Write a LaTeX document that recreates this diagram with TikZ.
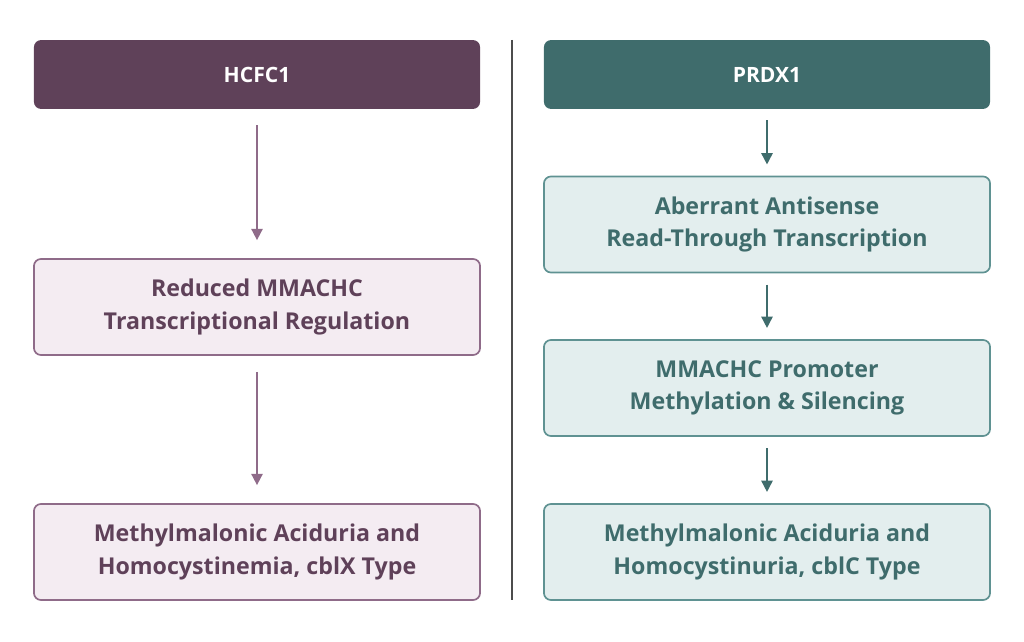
\documentclass[tikz,border=0pt]{standalone}
\usepackage{fontspec}
\setmainfont{Open Sans}
\usetikzlibrary{arrows.meta}
\definecolor{plumdark}{HTML}{5F4159}
\definecolor{plumline}{HTML}{8F6B89}
\definecolor{plumfill}{HTML}{F4ECF2}
\definecolor{tealdark}{HTML}{3F6C6C}
\definecolor{tealline}{HTML}{5F9292}
\definecolor{tealfill}{HTML}{E3EEEE}
\begin{document}
\begin{tikzpicture}[
    x=0.025cm, y=-0.025cm,
    header/.style={rounded corners=5pt, minimum width=11.15cm, minimum height=1.72cm,
        font=\fontsize{15}{18}\selectfont\bfseries, text=white},
    stepbox/.style={draw, line width=1.2pt, rounded corners=5pt, minimum width=11.15cm,
        minimum height=2.4cm, align=center, font=\fontsize{16.5}{23}\selectfont\bfseries},
    leftbox/.style={stepbox, draw=plumline, fill=plumfill, text=plumdark},
    rightbox/.style={stepbox, draw=tealline, fill=tealfill, text=tealdark},
    arrow/.style={-{Triangle[length=8pt,width=8pt]}, line width=1.2pt}
  ]
  \useasboundingbox (0,0) rectangle (1024,642);
  % left column
  \node[header, fill=plumdark] (hcfc) at (257,74.5) {HCFC1};
  \node[leftbox] (reduced) at (257,307) {Reduced MMACHC\\Transcriptional Regulation};
  \node[leftbox] (cblx) at (257,552) {Methylmalonic Aciduria and\\Homocystinemia, cblX Type};
  % right column
  \node[header, fill=tealdark] (prdx) at (767,74.5) {PRDX1};
  \node[rightbox] (antisense) at (767,224.5) {Aberrant Antisense\\Read-Through Transcription};
  \node[rightbox] (promoter) at (767,388) {MMACHC Promoter\\Methylation \& Silencing};
  \node[rightbox] (cblc) at (767,552) {Methylmalonic Aciduria and\\Homocystinuria, cblC Type};
  % divider
  \coordinate (top) at (512,40);
  \coordinate (bottom) at (512,600);
  \draw[line width=1pt, black!70] (top) -- (bottom);
  % arrows
  \draw[arrow, plumline] ([yshift=-0.4cm]hcfc.south) -- ([yshift=0.45cm]reduced.north);
  \draw[arrow, plumline] ([yshift=-0.4cm]reduced.south) -- ([yshift=0.45cm]cblx.north);
  \draw[arrow, tealdark] ([yshift=-0.28cm]prdx.south) -- ([yshift=0.28cm]antisense.north);
  \draw[arrow, tealdark] ([yshift=-0.28cm]antisense.south) -- ([yshift=0.28cm]promoter.north);
  \draw[arrow, tealdark] ([yshift=-0.28cm]promoter.south) -- ([yshift=0.28cm]cblc.north);
\end{tikzpicture}
\end{document}
